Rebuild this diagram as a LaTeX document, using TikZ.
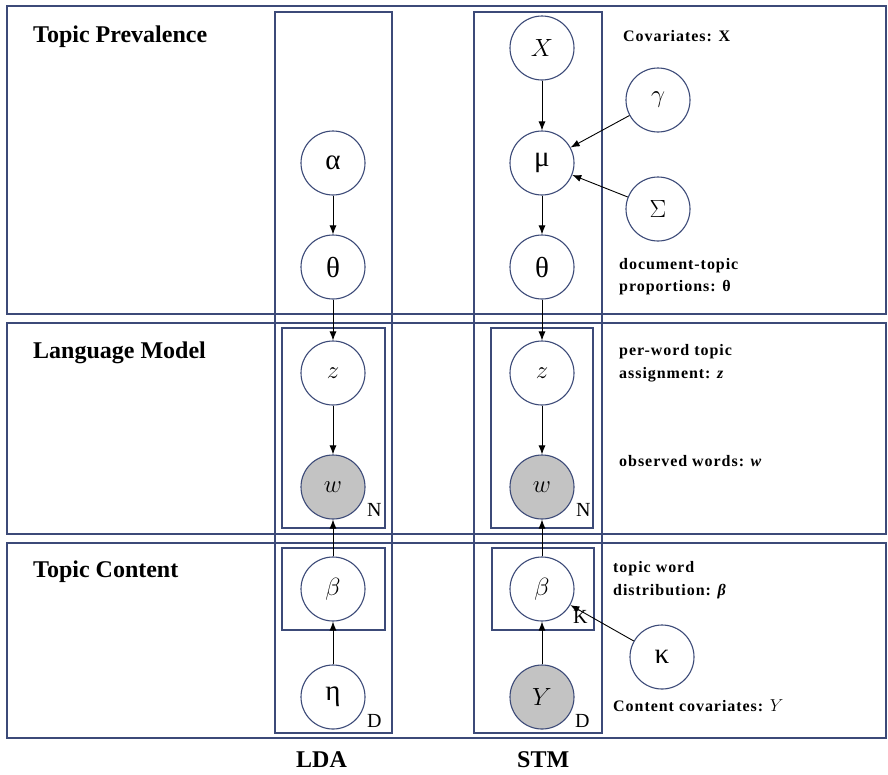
\documentclass[tikz,border=0pt]{standalone}
\usepackage{fontspec}
\setmainfont{Liberation Serif}
\newfontfamily\lblfont[LetterSpace=6]{Liberation Serif}
\usetikzlibrary{arrows.meta}
\definecolor{navy}{RGB}{60,74,120}
\definecolor{obsgray}{RGB}{195,195,195}
\begin{document}
\begin{tikzpicture}[x=1pt,y=-1pt,
 band/.style={draw=navy,line width=1.3pt},
 plate/.style={draw=navy,line width=1.2pt},
 var/.style={circle,draw=navy,line width=1.1pt,fill=white,minimum size=64pt,inner sep=0pt,font=\fontsize{29}{32}\selectfont},
 obs/.style={var,fill=obsgray},
 edge/.style={-{Latex[length=9pt,width=7pt]},line width=0.9pt,draw=black},
 title/.style={anchor=base west,font=\bfseries\fontsize{24}{28}\selectfont,inner sep=0pt},
 lbl/.style={anchor=base west,font=\lblfont\bfseries\fontsize{16}{19}\selectfont,inner sep=0pt},
 platelbl/.style={anchor=base west,font=\fontsize{20}{24}\selectfont,inner sep=0pt}]
\useasboundingbox (0,0) rectangle (888,774);
\fill[white] (0,0) rectangle (888,774);
% bands
\draw[band] (7,6) rectangle (886,314);
\draw[band] (7,323) rectangle (886,534);
\draw[band] (7,543) rectangle (886,738);
% plates
\draw[plate] (275,12) rectangle (392,733);
\draw[plate] (474,12) rectangle (602,733);
\draw[plate] (282,328) rectangle (385,528);
\draw[plate] (491,328) rectangle (593,528);
\draw[plate] (282,548) rectangle (385,630);
\draw[plate] (492,548) rectangle (594,630);
% titles
\node[title] (tp) at (33,42) {Topic Prevalence};
\node[title] (lm) at (33,358) {Language Model};
\node[title] (tc) at (33,577) {Topic Content};
\node[title] (lda) at (296,767) {LDA};
\node[title] (stm) at (517,767) {STM};
% LDA nodes
\node[var] (alpha) at (333,163) {α};
\node[var] (thetaL) at (333,267) {θ};
\node[var] (zL) at (333,373) {$z$};
\node[obs] (wL) at (333,487) {$w$};
\node[var] (betaL) at (333,589) {$\beta$};
\node[var] (eta) at (333,697) {η};
% STM nodes
\node[var] (X) at (542,48) {$X$};
\node[var] (mu) at (542,163) {μ};
\node[var] (gamma) at (658,100) {$\gamma$};
\node[var] (Sigma) at (658,209) {$\Sigma$};
\node[var] (thetaS) at (542,267) {θ};
\node[var] (zS) at (542,373) {$z$};
\node[obs] (wS) at (542,487) {$w$};
\node[var] (betaS) at (542,589) {$\beta$};
\node[obs] (Y) at (542,697) {$Y$};
\node[var] (kappa) at (662,657) {κ};
% plate labels
\node[platelbl] (nL) at (367,516) {N};
\node[platelbl] (nS) at (576,516) {N};
\node[platelbl] (kS) at (573,623) {K};
\node[platelbl] (dL) at (367,727) {D};
\node[platelbl] (dS) at (575,727) {D};
% right labels
\node[lbl] (l1) at (623,41) {Covariates: X};
\node[lbl] (l2) at (619,269) {document-topic};
\node[lbl] (l3) at (619,291) {proportions: θ};
\node[lbl] (l4) at (619,355) {per-word topic};
\node[lbl] (l5) at (619,378) {assignment: \textit{z}};
\node[lbl] (l6) at (619,466) {observed words: \textit{w}};
\node[lbl] (l7) at (613,572) {topic word};
\node[lbl] (l8) at (613,595) {distribution: \textit{β}};
\node[lbl] (l9) at (613,711) {Content covariates: {\mdseries$Y$}};
% edges
\draw[edge] (alpha) -- (thetaL);
\draw[edge] (thetaL) -- (zL);
\draw[edge] (zL) -- (wL);
\draw[edge] (betaL) -- (wL);
\draw[edge] (eta) -- (betaL);
\draw[edge] (X) -- (mu);
\draw[edge] (gamma) -- (mu);
\draw[edge] (Sigma) -- (mu);
\draw[edge] (mu) -- (thetaS);
\draw[edge] (thetaS) -- (zS);
\draw[edge] (zS) -- (wS);
\draw[edge] (betaS) -- (wS);
\draw[edge] (Y) -- (betaS);
\draw[edge] (kappa) -- (betaS);
\end{tikzpicture}
\end{document}
